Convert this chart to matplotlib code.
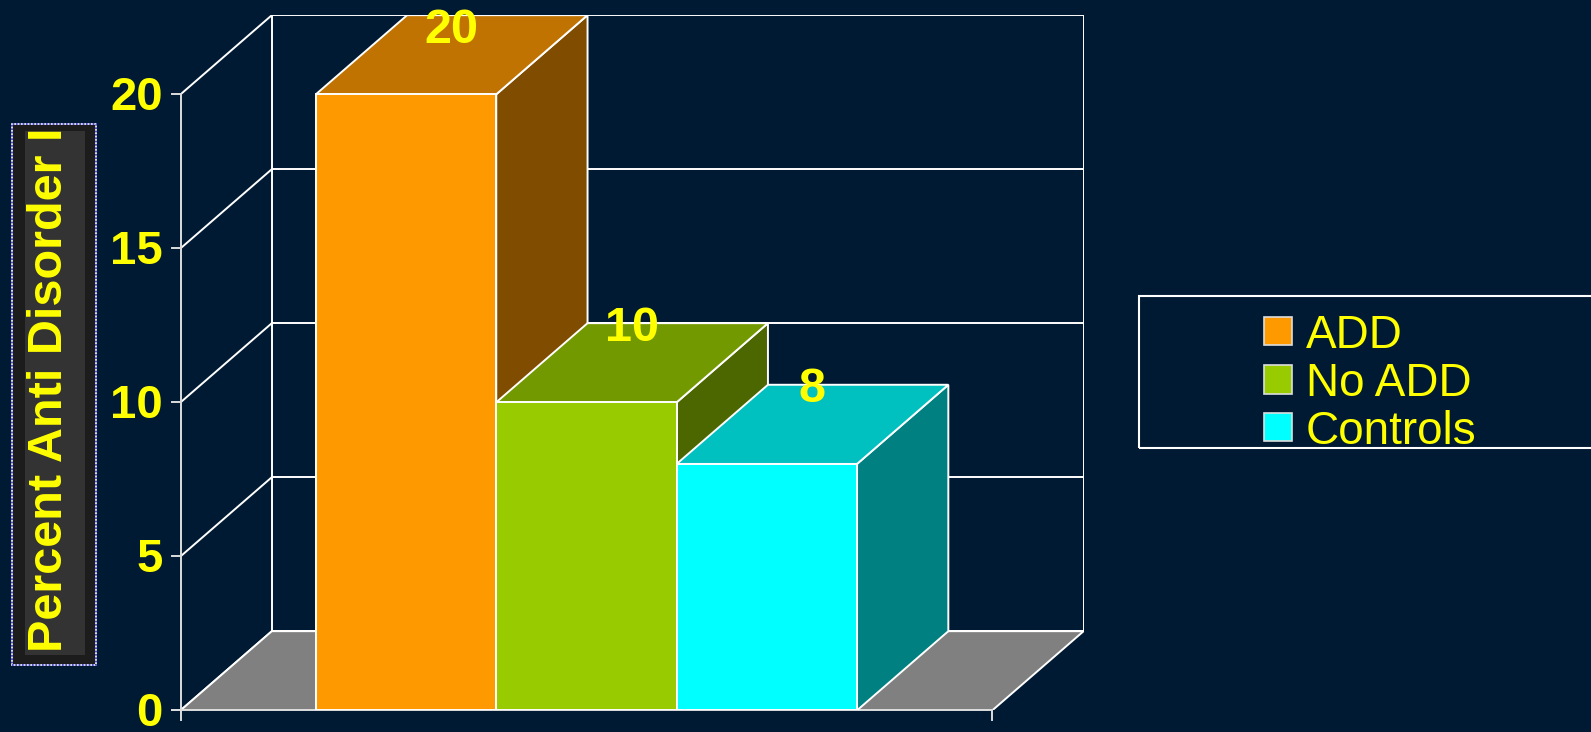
import matplotlib.pyplot as plt
from matplotlib.patches import Polygon, Rectangle

# 数据
categories = ['ADD', 'No ADD', 'Controls']
values = [20, 10, 8]
front_colors = ['#ff9900', '#99cc00', '#00ffff']
top_colors = ['#c07300', '#739900', '#00c0c0']
side_colors = ['#804c00', '#4c6600', '#008080']
y_ticks = [0, 5, 10, 15, 20]
y_label = 'Percent Anti Disorder I'

BG = '#001a33'
YEL = '#ffff00'
plt.rcParams['font.family'] = ['Liberation Sans', 'DejaVu Sans']

# 伪3D参数 (数据单位)
dx, dy = 0.506, 2.57
gap = 0.75
x_max = gap * 2 + len(values)
y_max = 20

fig = plt.figure(figsize=(15.91, 7.32), dpi=100, facecolor=BG)
ax = fig.add_axes([0.1135, 0.0296, 0.5676, 0.9497])
ax.set_xlim(0, x_max + dx)
ax.set_ylim(0, y_max + dy)
ax.axis('off')
ax.set_facecolor(BG)

lw = 1.4
# 背墙网格 + 侧墙斜线
for v in y_ticks:
    ax.plot([dx, x_max + dx], [v + dy, v + dy], color='white', lw=lw, zorder=1)
    ax.plot([0, dx], [v, v + dy], color='white', lw=lw, zorder=1)
ax.plot([dx, dx], [dy, y_max + dy], color='white', lw=lw, zorder=1)
ax.plot([x_max + dx, x_max + dx], [dy, y_max + dy], color='white', lw=lw, zorder=1)

# 地板
floor = Polygon([(0, 0), (x_max, 0), (x_max + dx, dy), (dx, dy)], closed=True,
                facecolor='#808080', edgecolor='white', lw=lw, zorder=2)
ax.add_patch(floor)

# 坐标轴
ax.plot([0, 0], [-0.3, y_max], color='#dddddd', lw=lw, clip_on=False, zorder=3)
ax.plot([-0.05, x_max], [0, 0], color='#dddddd', lw=lw, clip_on=False, zorder=3)
ax.plot([x_max, x_max], [0, -0.3], color='#dddddd', lw=lw, clip_on=False, zorder=3)
for v in y_ticks:
    ax.plot([-0.05, 0], [v, v], color='#dddddd', lw=lw, clip_on=False, zorder=3)
    ax.annotate(str(v), (-0.1, v), xytext=(0, -3), textcoords='offset points',
                color=YEL, fontsize=34, fontweight='bold',
                ha='right', va='center', zorder=3, annotation_clip=False)

# 柱子
for i, (v, fc, tc, sc) in enumerate(zip(values, front_colors, top_colors, side_colors)):
    x0 = gap + i
    x1 = x0 + 1
    side = Polygon([(x1, 0), (x1 + dx, dy), (x1 + dx, v + dy), (x1, v)], closed=True,
                   facecolor=sc, edgecolor='white', lw=lw, zorder=4 + i)
    top = Polygon([(x0, v), (x1, v), (x1 + dx, v + dy), (x0 + dx, v + dy)], closed=True,
                  facecolor=tc, edgecolor='white', lw=lw, zorder=4 + i)
    front = Rectangle((x0, 0), 1, v, facecolor=fc, edgecolor='white', lw=lw, zorder=4 + i)
    ax.add_patch(side)
    ax.add_patch(top)
    ax.add_patch(front)
    ly = min(v + dy, y_max + dy - 0.33)
    ax.annotate(str(v), (x0 + 0.5 + dx / 2, ly), xytext=(0, -3.5), textcoords='offset points',
                color=YEL, fontsize=35, fontweight='bold',
                ha='center', va='center', zorder=10, annotation_clip=False)

# Y轴标签框
W, H = 1591, 732
fig.patches.append(Rectangle((12 / W, 1 - 665 / H), 84 / W, 541 / H, transform=fig.transFigure,
                             facecolor='#1c1c1c', edgecolor='white', lw=1.2))
fig.patches.append(Rectangle((12 / W, 1 - 665 / H), 84 / W, 541 / H, transform=fig.transFigure,
                             facecolor='none', edgecolor='#3333cc', lw=1.2, ls=(0, (1, 1))))
fig.patches.append(Rectangle((25 / W, 1 - 655 / H), 60 / W, 524 / H, transform=fig.transFigure,
                             facecolor='#333333', edgecolor='none'))
fig.text(50 / W, 1 - 390 / H, y_label, color=YEL, fontsize=35, fontweight='bold',
         rotation=90, ha='center', va='center')

# 图例
fig.patches.append(Rectangle((1138.5 / W, 1 - 447.5 / H), 0.4, 151 / H, transform=fig.transFigure,
                             facecolor='none', edgecolor='white', lw=1.5))
row_y = [331, 379.5, 427]
for name, fc, ry in zip(categories, front_colors, row_y):
    fig.patches.append(Rectangle((1264 / W, 1 - (ry + 14) / H), 28 / W, 28 / H,
                                 transform=fig.transFigure, facecolor=fc,
                                 edgecolor='#dddddd', lw=1.2))
    fig.text(1306 / W, 1 - ry / H, name, color=YEL, fontsize=33,
             ha='left', va='center_baseline')

fig.savefig('out.png', dpi=100, facecolor=BG)
